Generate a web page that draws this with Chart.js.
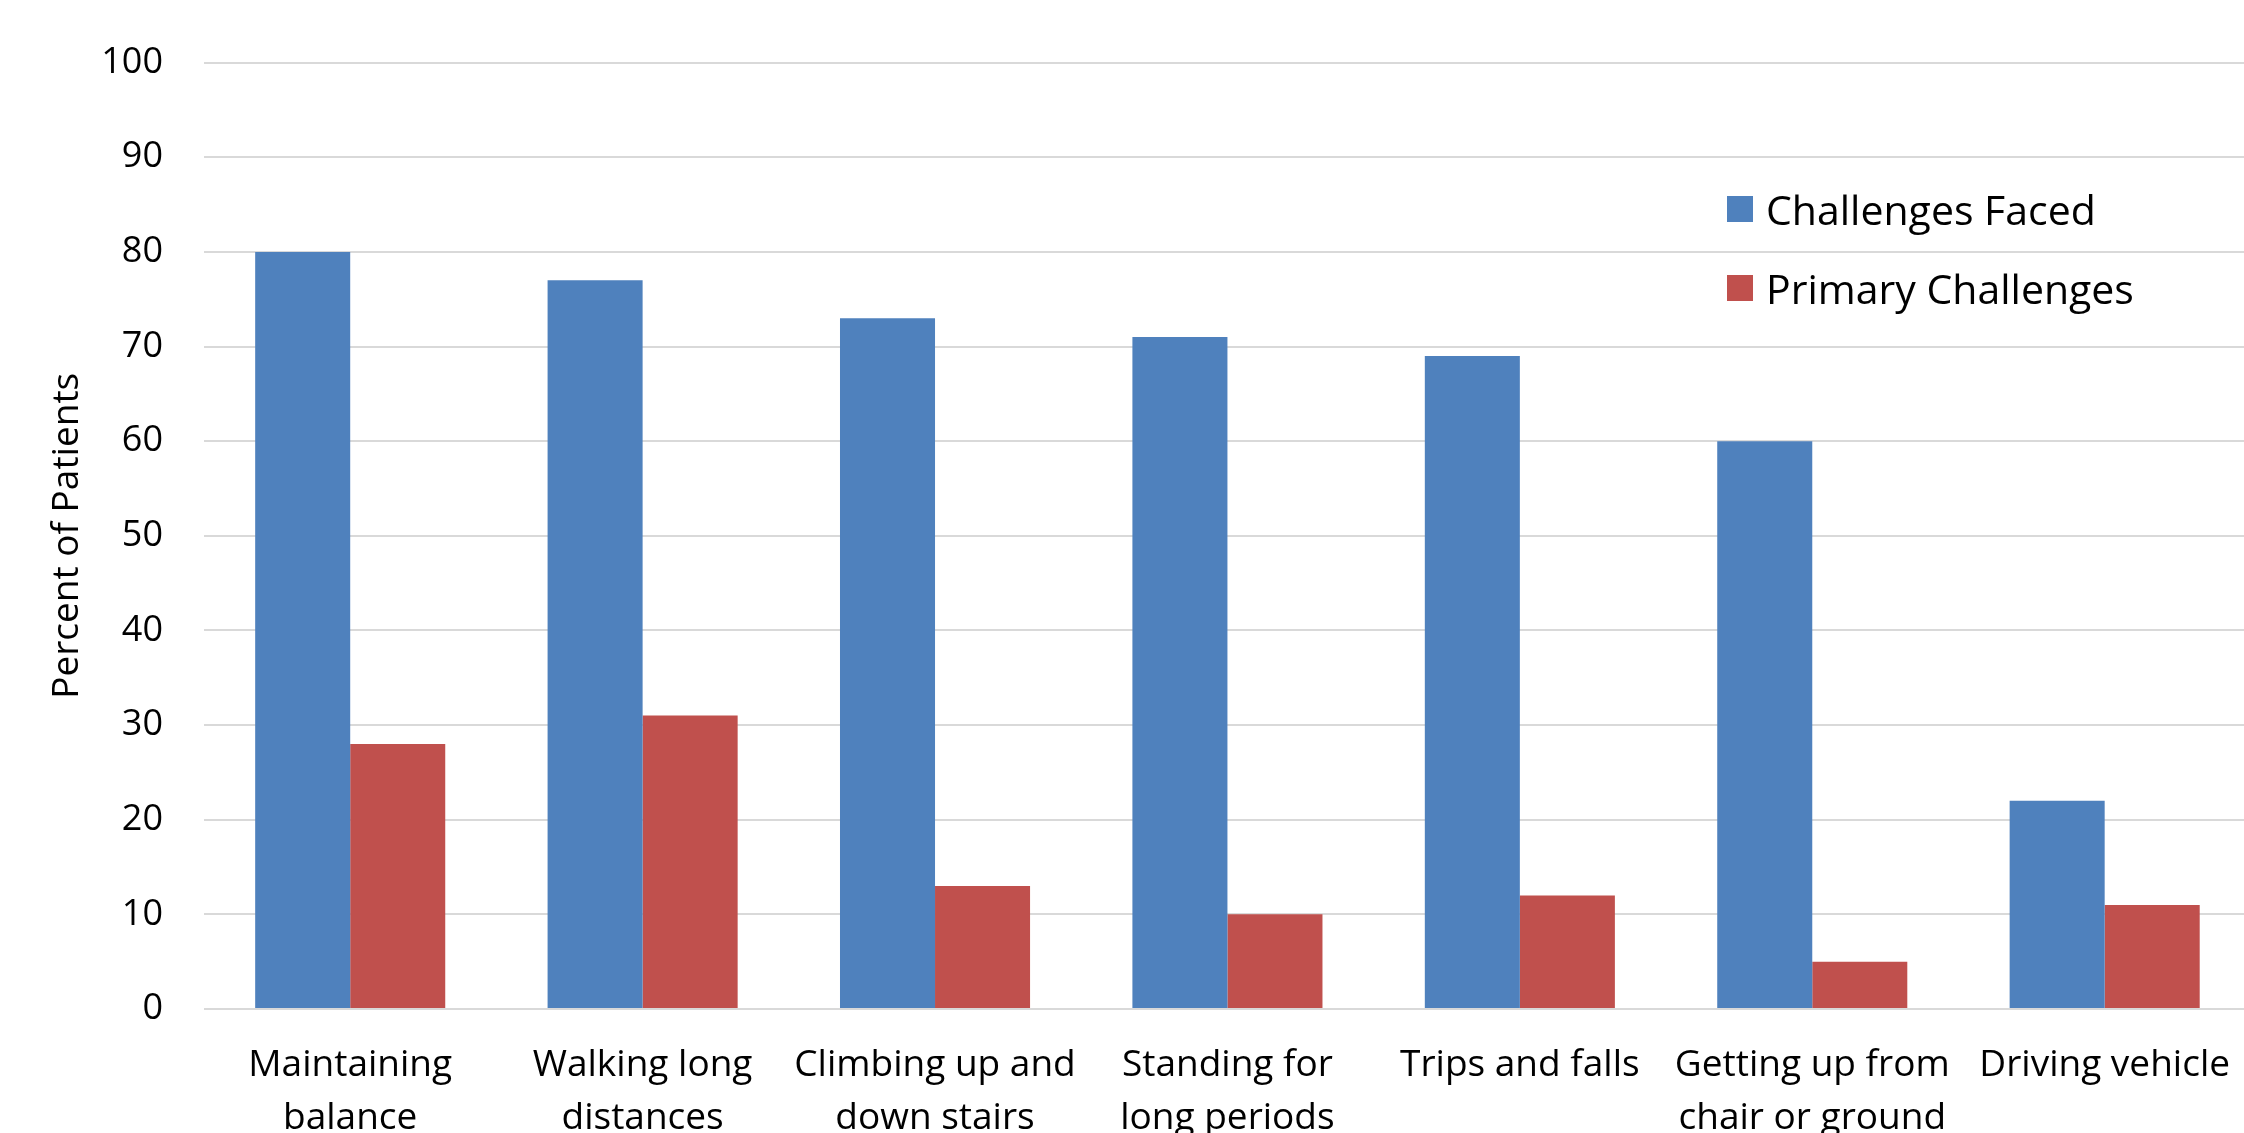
<!DOCTYPE html>
<html>
<head>
<meta charset="utf-8">
<script src="https://cdn.jsdelivr.net/npm/chart.js@4/dist/chart.umd.min.js"></script>
<style>
  html, body { margin: 0; padding: 0; background: #fff; overflow: hidden; }
  #wrap { position: relative; width: 2252px; height: 1133px; }
  #legend { position: absolute; left: 1727px; top: 180px; font-family: 'Open Sans', sans-serif; font-size: 41px; color: #000; }
  .item { display: flex; align-items: center; height: 57px; margin-bottom: 22px; white-space: nowrap; }
  .box { width: 26px; height: 26px; margin-right: 13px; }
</style>
</head>
<body>
<div id="wrap">
  <canvas id="challenges__chart" width="2252" height="1133"></canvas>
  <div id="legend"></div>
</div>
<script>
var categories = [
    ['Maintaining', 'balance'],
    ['Walking long', 'distances'],
    ['Climbing up and', 'down stairs'],
    ['Standing for', 'long periods'],
    'Trips and falls',
    ['Getting up from', 'chair or ground'],
    'Driving vehicle'
];
var challengesFaced = [80, 77, 73, 71, 69, 60, 22];
var primaryChallenges = [28, 31, 13, 10, 12, 5, 11];
var yTicks = [0, 10, 20, 30, 40, 50, 60, 70, 80, 90, 100];

var FONT = "'Open Sans', sans-serif";

var ctx = document.getElementById('challenges__chart');
var challenges__chart = new Chart(ctx, {
    type: 'bar',
    data: {
        labels: categories,
        datasets: [{
            label: 'Challenges Faced',
            data: challengesFaced,
            backgroundColor: '#4F81BD'
        }, {
            label: 'Primary Challenges',
            data: primaryChallenges,
            backgroundColor: '#C0504D'
        }]
    },
    options: {
        responsive: false,
        animation: false,
        layout: { padding: { left: 0, right: 0, top: 62, bottom: 0 } },
        datasets: {
            bar: { categoryPercentage: 0.65, barPercentage: 1.0 }
        },
        plugins: {
            legend: { display: false },
            tooltip: { enabled: false }
        },
        scales: {
            x: {
                grid: { display: false },
                border: { display: false },
                ticks: {
                    color: '#000',
                    padding: 22,
                    maxRotation: 0,
                    autoSkip: false,
                    font: { family: FONT, size: 37, lineHeight: 1.43 }
                },
                afterFit: function (axis) { axis.height = 124; }
            },
            y: {
                min: 0,
                max: 100,
                afterBuildTicks: function (axis) {
                    axis.ticks = yTicks.map(function (v) { return { value: v }; });
                },
                grid: { color: '#D9D9D9', lineWidth: 2, drawTicks: false },
                border: { display: false },
                ticks: {
                    color: '#000',
                    padding: 41,
                    font: { family: FONT, size: 36 }
                },
                title: {
                    display: true,
                    text: 'Percent of Patients',
                    color: '#000',
                    padding: { top: 45, bottom: 0 },
                    font: { family: FONT, size: 37 }
                },
                afterFit: function (axis) { axis.width = 204; }
            }
        }
    }
});

// legend built from the dataset labels and colours
var legendEl = document.getElementById('legend');
challenges__chart.data.datasets.forEach(function (ds) {
    var item = document.createElement('div');
    item.className = 'item';
    var box = document.createElement('span');
    box.className = 'box';
    box.style.background = ds.backgroundColor;
    var txt = document.createElement('span');
    txt.textContent = ds.label;
    item.appendChild(box);
    item.appendChild(txt);
    legendEl.appendChild(item);
});
</script>
</body>
</html>
